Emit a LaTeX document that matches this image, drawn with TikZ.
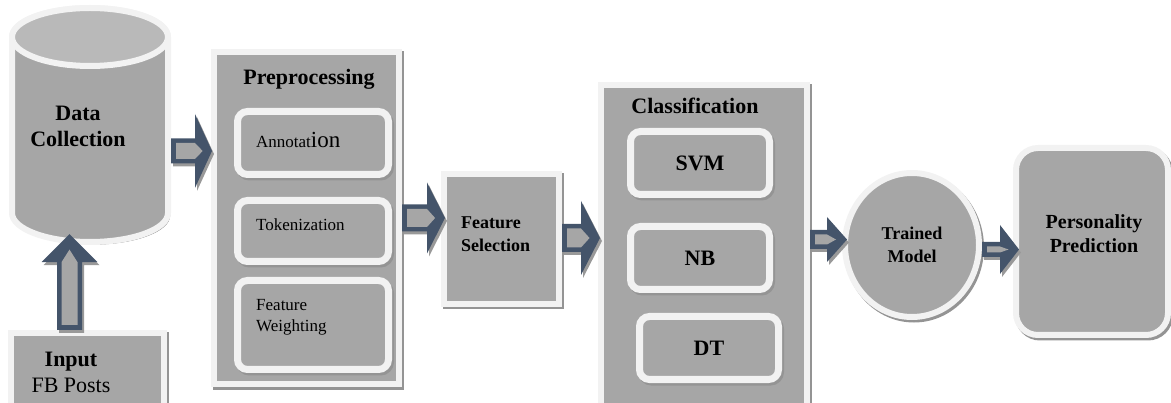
\documentclass[tikz,border=0pt]{standalone}
\usepackage{fontspec}
\setmainfont{Liberation Serif}
\usetikzlibrary{shapes.geometric,calc}
\definecolor{boxgray}{HTML}{A6A6A6}
\definecolor{capgray}{HTML}{B9B9B9}
\definecolor{rimwhite}{HTML}{F2F2F2}
\definecolor{arrowblue}{HTML}{44546A}
\tikzstyle{box shadow} = [preaction={draw=black!42,fill=black!42,transform canvas={xshift=2pt,yshift=-2.5pt}}]
\tikzstyle{block} = [rectangle,fill=boxgray,draw=rimwhite,line width=6pt,inner sep=0pt,box shadow]
\tikzstyle{subblock} = [block,rounded corners=10pt,line width=7pt]
\tikzstyle{big title} = [font=\fontsize{22}{26}\selectfont\bfseries,inner sep=0pt,align=center]
\tikzstyle{mid title} = [font=\fontsize{18}{23}\selectfont\bfseries,inner sep=0pt,align=left]
\tikzstyle{small text} = [font=\fontsize{17}{21}\selectfont,inner sep=0pt,align=left]
\tikzstyle{arrow dark} = [fill=arrowblue,preaction={fill=black!40,transform canvas={xshift=2pt,yshift=-3pt}}]
\tikzstyle{arrow light} = [fill=boxgray]
% hollow block arrow: start, tip, shaft half width, head half width, head length
\newcommand{\blockarrow}[5]{%
  \coordinate (ba) at #1;
  \coordinate (bt) at #2;
  \coordinate (bb) at ($(bt)!#5pt!(ba)$);
  \coordinate (bi) at ($(ba)!5pt!(bt)$);
  \coordinate (bp) at ($(bb)!.45!(bt)$);
  \pgfmathsetmacro\bsin{#3-4.5}
  \fill[arrow dark] ($(ba)!#3pt!90:(bt)$) -- ($(bb)!#3pt!90:(bt)$) -- ($(bb)!#4pt!90:(bt)$) -- (bt)
    -- ($(bb)!#4pt!-90:(bt)$) -- ($(bb)!#3pt!-90:(bt)$) -- ($(ba)!#3pt!-90:(bt)$) -- cycle;
  \fill[arrow light] ($(bi)!\bsin pt!90:(bt)$) -- ($(bb)!\bsin pt!90:(bt)$) -- (bp)
    -- ($(bb)!\bsin pt!-90:(bt)$) -- ($(bi)!\bsin pt!-90:(bt)$) -- cycle;
}
\begin{document}
\begin{tikzpicture}[x=1pt,y=1pt]
    \useasboundingbox (0,0) rectangle (1171,402);
    % data collection cylinder
    \node[minimum width=162pt,minimum height=238pt,inner sep=0pt] (dc) at (90,277) {};
    \path[fill=boxgray,draw=rimwhite,line width=6pt,box shadow] (12,365) -- (12,189)
        arc[start angle=180,end angle=360,x radius=78,y radius=29] -- (168,365)
        arc[start angle=0,end angle=180,x radius=78,y radius=29] -- cycle;
    \path[fill=capgray,draw=rimwhite,line width=6pt] (90,365) ellipse[x radius=78,y radius=29];
    \node[big title] (dctxt) at (78,276) {Data\\Collection};

    % input box
    \node[block,minimum width=153pt,minimum height=77pt] (inp) at (87.5,30.5) {};
    \node[big title] (inptxt) at (71,30) {Input\\\mdseries FB Posts};

    % preprocessing
    \node[block,minimum width=185pt,minimum height=332pt] (pre) at (306.5,184) {};
    \node[big title] (pretitle) at (309,323) {Preprocessing};
    \foreach \name/\y/\h in {ann/259/63, tok/171/61, fw/77/89}
        \node[subblock,minimum width=151pt,minimum height=\h pt] (\name) at (313,\y) {};
    \node[small text,anchor=west] (anntxt) at ([xshift=22pt,yshift=3pt]ann.west)
        {Annotat{\fontsize{23}{23}\selectfont ion}};
    \node[small text,anchor=west] (toktxt) at ([xshift=22pt,yshift=6pt]tok.west) {Tokenization};
    \node[small text,anchor=west] (fwtxt) at ([xshift=22pt,yshift=8pt]fw.west) {Feature\\Weighting};

    % feature selection
    \node[block,minimum width=115pt,minimum height=130pt] (fs) at (501.5,163) {};
    \node[mid title,anchor=west] (fstxt) at ([xshift=20pt,yshift=4.5pt]fs.west) {Feature\\Selection};

    % classification
    \node[block,minimum width=206pt,minimum height=325pt] (cls) at (704,154.5) {};
    \node[big title] (clstitle) at (695,296) {Classification};
    \foreach \name/\x/\y/\txt in {svm/700/239/SVM, nb/700/144/NB, dt/709/54/DT}
        \node[subblock,minimum width=139pt,minimum height=63pt,font=\fontsize{22}{26}\selectfont\bfseries]
            (\name) at (\x,\y) {\txt};

    % trained model and prediction
    \node[ellipse,fill=boxgray,draw=rimwhite,line width=6pt,inner sep=0pt,box shadow,
        minimum width=134pt,minimum height=144pt,mid title,align=center] (tm) at (912,157) {Trained\\Model};
    \node[block,rounded corners=22pt,minimum width=152pt,minimum height=187pt] (pp) at (1092,160.5) {};
    \node[big title,font=\fontsize{20}{24}\selectfont\bfseries] (pptxt) at ([xshift=2pt,yshift=7.5pt]pp.center)
        {Personality\\Prediction};

    % block arrows
    \blockarrow{([xshift=-18pt]inp.north)}{([xshift=-20.5pt,yshift=10pt]dc.south)}{12.5}{28}{28}
    \blockarrow{([yshift=-26pt]dc.east)}{([xshift=1pt,yshift=67pt]pre.west)}{12.5}{37}{17}
    \blockarrow{(pre.east)}{([xshift=4pt,yshift=21pt]fs.west)}{13.5}{35.5}{18}
    \blockarrow{([yshift=1pt]fs.east)}{([xshift=2pt,yshift=9.5pt]cls.west)}{14}{37}{19}
    \blockarrow{([yshift=8pt]cls.east)}{([xshift=5pt,yshift=5.5pt]tm.west)}{9.5}{22.5}{20}
    \blockarrow{([yshift=-4.5pt]tm.east)}{([xshift=6pt,yshift=-8pt]pp.west)}{7.5}{24.5}{19}
\end{tikzpicture}
\end{document}
